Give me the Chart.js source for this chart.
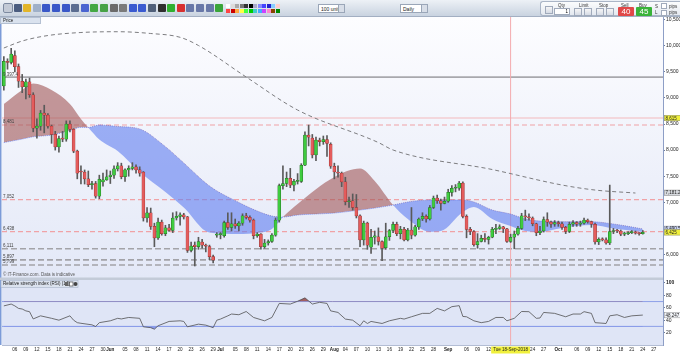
<!DOCTYPE html>
<html>
<head>
<meta charset="utf-8">
<script src="https://cdn.jsdelivr.net/npm/chart.js@4.4.1/dist/chart.umd.min.js"></script>
<style>
body{margin:0;width:680px;height:355px;overflow:hidden;background:#fff;font-family:"Liberation Sans",Arial,sans-serif;}
#wrap{position:relative;width:680px;height:355px;}
#c{position:absolute;left:0;top:0;}
#bar{position:absolute;left:0;top:0;width:680px;height:17px;background:linear-gradient(#edf1f6,#c9d3e0);border-bottom:1px solid #a3afc2;box-sizing:border-box;}
#bar .ic{position:absolute;top:4px;width:8px;height:8px;border-radius:1px;}
#bar .sel{position:absolute;top:4px;height:9px;background:#fff;border:1px solid #9aa6b8;font-size:5px;line-height:9px;padding-left:2px;box-sizing:border-box;color:#222;}
#bar .sel:after{content:"";position:absolute;right:0;top:0;width:5px;height:7px;background:#d8dee8;border-left:1px solid #9aa6b8;}
#trade{position:absolute;left:540px;top:1px;width:140px;height:15px;background:linear-gradient(#fbfcfd,#e4e9f0);border:1px solid #aab5c6;border-right:none;border-radius:3px 0 0 3px;box-sizing:border-box;}
#trade .t{position:absolute;font-size:4.5px;color:#333;top:1px;}
#trade .b{position:absolute;top:6px;height:7px;border:1px solid #a0aabb;background:#fff;box-sizing:border-box;}
#trade .q{position:absolute;top:6px;width:8px;height:8px;background:linear-gradient(#f6f6f6,#d5dbe5);border:1px solid #a0aabb;box-sizing:border-box;}
#trade .sell,#trade .buy{position:absolute;top:5px;width:16px;height:9px;color:#fff;font-size:8px;line-height:9px;text-align:center;border-radius:1px;}
#trade .sell{left:77px;background:#e04848;}
#trade .buy{left:95px;background:#39b339;}
#price{position:absolute;left:0;top:17px;height:7px;width:41px;background:#dae2ee;border:1px solid #b4c0d2;box-sizing:border-box;font-size:4.5px;line-height:6px;color:#222;padding-left:2px;}
</style>
</head>
<body>
<div id="wrap">
<canvas id="c" width="680" height="355"></canvas>
<div id="bar">
  <div class="sel" style="left:318px;width:27px">100 units</div>
  <div class="sel" style="left:400px;width:28px">Daily</div>
  <div id="trade">
    <div class="q" style="left:4px;top:4px"></div>
    <div class="t" style="left:17px">Qty</div>
    <div class="b" style="left:13px;width:16px;font-size:4.5px;text-align:right;padding-right:1px;line-height:5px">1</div>
    <div class="t" style="left:38px">Limit</div>
    <div class="q" style="left:33px"></div><div class="q" style="left:43px"></div>
    <div class="t" style="left:58px">Stop</div>
    <div class="q" style="left:55px"></div><div class="q" style="left:65px"></div>
    <div class="t" style="left:80px">Sell</div>
    <div class="t" style="left:98px">Buy</div>
    <div class="sell">40</div>
    <div class="buy">45</div>
    <div class="t" style="left:114px;top:2px">S</div>
    <div class="t" style="left:114px;top:8px">L</div>
    <div class="b" style="left:120px;top:1px;width:6px;height:6px"></div>
    <div class="b" style="left:120px;top:8px;width:6px;height:6px"></div>
    <div class="t" style="left:128px;top:2px">pips</div>
    <div class="t" style="left:128px;top:8px">pips</div>
  </div>
</div>
<div id="price">Price</div>
</div>
<script>
// toolbar icons (decoration only)
const iconColors = ['#9aa8c0','#4b5d80','#e2b52a','#9fb0c8','#3a58c8','#3a58c8','#3a58c8','#5a6c90',
  '#4a64d0','#44a844','#47a247','#6b6b6b','#7b7b7b','#3b5bd0','#3b5bd0','#50607a','#2f2f2f',
  '#30b030','#d83030','#6878a8','#6878a8','#6878a8','#3aa53a'];
const bar = document.getElementById('bar');
iconColors.forEach((col, k) => {
  const d = document.createElement('div');
  d.className = 'ic';
  d.style.left = (4 + k * 9.6) + 'px';
  d.style.background = col;
  if (k === 0) { d.style.outline = '1px solid #7d8aa0'; d.style.background = '#c3cad6'; }
  bar.appendChild(d);
});
const palette = ['#fff','#ddd','#aaa','#777','#333','#000','#aac','#88f','#44f','#22c','#8cf','#fcc',
  '#f44','#c00','#fa4','#ff4','#4f4','#0c0','#4cc','#4af','#c4f','#f8c','#840','#080'];
palette.forEach((col, k) => {
  const d = document.createElement('div');
  d.className = 'ic';
  d.style.width = '4px'; d.style.height = '4px'; d.style.borderRadius = '0';
  d.style.left = (226 + (k % 12) * 4.5) + 'px';
  d.style.top = (4 + Math.floor(k / 12) * 5) + 'px';
  d.style.background = col;
  bar.appendChild(d);
});

// days on the x axis
const firstDay = Date.UTC(2018, 4, 3);
const dayCount = 180;
const labels = Array.from({length: dayCount}, (_, k) => {
  const d = new Date(firstDay + k * 86400000);
  return String(d.getUTCMonth() + 1).padStart(2, '0') + '-' + String(d.getUTCDate()).padStart(2, '0');
});

// candles, 3 May - 24 Oct 2018
const opens = [
  9230,9700,9680,9810,9600,9320,9210,9310,9060,8420,
  8460,8710,8670,8460,8300,8060,8220,8210,8500,8400,
  7980,7600,7580,7450,7340,7360,7120,7390,7430,7490,
  7520,7640,7700,7490,7620,7650,7680,7620,7580,6700,
  6800,6540,6320,6620,6400,6510,6460,6700,6730,6760,
  6720,6080,6180,6150,6240,6180,6150,5960,6370,6380,
  6360,6610,6520,6590,6550,6600,6740,6710,6660,6360,
  6390,6150,6220,6250,6370,6660,7320,7360,7460,7330,
  7400,7400,7710,8290,8230,7910,8190,8160,8200,8110,
  7690,7580,7560,7390,7010,7030,6900,6740,6280,6600,
  6140,6330,6340,6250,6130,6340,6460,6580,6400,6480,
  6280,6470,6370,6530,6680,6730,6680,6900,7080,7030,
  6980,7020,7190,7270,7270,7370,6730,6480,6440,6190,
  6250,6310,6290,6330,6480,6500,6530,6490,6250,6330,
  6390,6500,6740,6720,6700,6590,6420,6450,6670,6620,
  6580,6610,6590,6520,6440,6580,6610,6580,6600,6660,
  6630,6580,6240,6290,6280,6220,6440,6460,6450,6390,
  6400,6420,6430,6410,6400];
const highs = [
  9790,9750,9950,9900,9650,9450,9360,9380,9100,8600,
  8760,8860,8700,8480,8360,8270,8360,8560,8560,8410,
  8000,7700,7620,7600,7400,7400,7520,7560,7620,7600,
  7700,7760,7750,7640,7700,7760,7720,7680,7590,6900,
  6890,6600,6700,6660,6560,6580,6800,6820,6800,6790,
  6730,6240,6240,6330,6290,6200,6180,5990,6420,6420,
  6640,6800,6800,6680,6630,6780,6790,6740,6680,6420,
  6400,6290,6280,6400,6700,7350,7700,7580,7650,7440,
  7550,7740,8350,8480,8300,8250,8230,8270,8280,8140,
  7750,7700,7580,7480,7100,7160,7150,6760,6640,6620,
  6480,6450,6510,6260,6600,6480,6620,6620,6540,6520,
  6500,6900,6560,6700,6800,6760,6940,7120,7140,7060,
  7100,7250,7320,7340,7400,7390,6760,6520,6460,6400,
  6370,6400,6350,6520,6580,6570,6540,6500,6390,6450,
  6540,6790,6850,6780,6720,6600,6540,6720,6800,6640,
  6650,6640,6620,6540,6620,6650,6630,6640,6700,6680,
  6640,6600,6320,6320,6320,7330,6500,6480,6470,6430,
  6440,6460,6450,6420,6460];
const lows = [
  9150,9550,9650,9500,9200,9100,8980,9010,8350,8230,
  8380,8330,8420,8130,8000,7960,8160,8170,8350,7950,
  7450,7350,7350,7300,7250,7080,7070,7310,7420,7360,
  7460,7600,7450,7400,7500,7620,7560,7500,6640,6620,
  6480,6150,6290,6370,6360,6440,6420,6660,6560,6680,
  6040,6050,5780,6100,6120,6050,5900,5840,6330,6300,
  6330,6480,6450,6500,6450,6560,6680,6620,6300,6330,
  6100,6120,6180,6230,6350,6620,7250,7300,7280,7220,
  7350,7380,7700,8080,7850,7800,8080,8110,7880,7650,
  7450,7480,7300,6950,6900,6850,6700,6150,6180,6100,
  6020,6200,6180,5880,6100,6270,6420,6360,6300,6260,
  6260,6300,6350,6480,6650,6620,6660,6880,6980,6850,
  6970,7000,7120,7200,7230,6700,6320,6380,6160,6120,
  6240,6240,6200,6320,6400,6480,6420,6230,6230,6110,
  6370,6480,6650,6660,6550,6360,6380,6430,6540,6520,
  6540,6540,6480,6400,6420,6540,6540,6540,6580,6600,
  6520,6200,6190,6260,6200,6190,6400,6420,6360,6360,
  6380,6400,6390,6370,6390];
const closes = [
  9700,9680,9840,9600,9320,9210,9310,9060,8420,8460,
  8710,8670,8460,8300,8060,8220,8210,8500,8400,7980,
  7560,7580,7450,7340,7360,7120,7440,7430,7490,7520,
  7640,7700,7490,7620,7650,7680,7620,7560,6700,6800,
  6540,6320,6620,6400,6510,6460,6700,6730,6760,6720,
  6080,6160,6150,6250,6180,6160,5960,5890,6390,6390,
  6610,6520,6590,6550,6600,6740,6710,6660,6360,6390,
  6150,6220,6250,6370,6660,7320,7360,7460,7330,7400,
  7400,7710,8290,8250,7910,8190,8160,8200,8130,7690,
  7580,7560,7390,7010,7030,6900,6740,6280,6600,6180,
  6330,6360,6250,6120,6340,6460,6580,6400,6480,6280,
  6470,6370,6530,6680,6730,6680,6900,7080,7030,6980,
  7020,7190,7270,7270,7370,6730,6480,6440,6190,6250,
  6310,6290,6330,6480,6500,6530,6490,6250,6330,6390,
  6500,6740,6720,6700,6590,6420,6450,6670,6620,6580,
  6610,6590,6520,6440,6580,6610,6580,6600,6660,6630,
  6580,6240,6290,6280,6220,6440,6460,6450,6390,6400,
  6420,6430,6410,6400,6425];

// 200 day moving average (dashed), read at a few days
const maDays = ['05-03','05-08','05-15','05-24','06-03','06-12','06-20','06-25','07-08','07-22',
  '08-13','08-17','09-13','10-02','10-11','10-22'];
const maValues = [9956,10090,10195,10253,10268,10234,10161,10004,9400,8768,
  8145,8002,7628,7331,7235,7178];

// ichimoku cloud edges
const cloudDays = ['05-03','05-08','05-11','05-16','05-21','05-24','05-26','05-29','06-03','06-09',
  '06-16','06-21','06-28','07-06','07-11','07-15','07-18','07-22','08-01','08-08',
  '08-12','08-17','08-21','08-27','08-30','09-05','09-08','09-13','09-18','09-22',
  '09-26','10-02','10-10','10-16','10-24'];
const spanA = [8883,9151,9276,9151,8883,8596,8433,8203,7982,7580,
  7197,6900,6421,6392,6411,6488,6718,6967,7484,7647,
  7408,6948,6680,6436,6449,6814,6910,6680,6545,6449,
  6431,6507,6565,6498,6430];
const spanB = [8145,8212,8256,8289,8375,8437,8433,8481,8452,8404,
  8065,7753,7312,6996,6833,6737,6718,6756,6795,6852,
  6890,6948,7005,7044,7044,7044,7005,6852,6775,6680,
  6641,6628,6628,6584,6490];

// RSI (14)
const rsiDays = ['05-03','05-05','05-06','05-07','05-08','05-09','05-10','05-11','05-13','05-16',
  '05-18','05-21','05-22','05-23','05-24','05-27','05-28','05-29','06-01','06-03',
  '06-04','06-06','06-09','06-10','06-12','06-13','06-14','06-17','06-20','06-21',
  '06-22','06-25','06-27','06-29','06-30','07-01','07-03','07-04','07-06','07-08',
  '07-10','07-13','07-15','07-17','07-20','07-22','07-24','07-26','07-28','07-30',
  '07-31','08-02','08-04','08-06','08-08','08-09','08-10','08-11','08-14','08-16',
  '08-19','08-20','08-22','08-25','08-27','08-29','08-31','09-02','09-04','09-05',
  '09-06','09-08','09-10','09-12','09-14','09-16','09-17','09-19','09-21','09-23',
  '09-25','09-26','09-27','09-30','10-03','10-05','10-07','10-08','10-10','10-11',
  '10-14','10-15','10-17','10-19','10-21','10-24'];
const rsiValues = [63,66,63,59,58,55,53.7,42,47,43,
  40,47,40,36,35,32.5,29.8,36,39,43,
  42,44.4,43,29.3,28,25.5,31,38,39,38,
  29.3,33.6,32,28,40,41.8,47,49.9,48.8,54,
  44.4,39,44.4,67,66,70.5,76,66,68.8,67,
  55,52.5,41.8,40,31,39,34.7,38,34.7,39,
  43,41.8,45.5,51,51,59,55,61.8,63.4,46,
  45.5,39,36,38,44.4,44.4,39,43,54,53.7,
  43,43.5,52.5,51,45.5,49.9,49.9,53.7,51,36,
  34.7,47,48.8,44.4,47,48.247];
const rsiLevels = [70, 30];

// axes
const priceTicks = [6000,6500,7000,7500,8000,8500,9000,9500,10000,10500];
const rsiTicks = [20,40,60,80,100];
const tickDays = ['05-06','05-09','05-12','05-15','05-18','05-21','05-24','05-27','05-30','06-01',
  '06-05','06-08','06-11','06-14','06-17','06-20','06-23','06-26','06-29','07-01',
  '07-05','07-08','07-11','07-14','07-17','07-20','07-23','07-26','07-29','08-01',
  '08-04','08-07','08-10','08-13','08-16','08-19','08-22','08-25','08-28','09-01',
  '09-06','09-09','09-12','09-24','09-27','10-01','10-06','10-09','10-12','10-15',
  '10-18','10-21','10-24','10-27'];
const tickTexts = ['06','09','12','15','18','21','24','27','30','Jun',
  '05','08','11','14','17','20','23','26','29','Jul',
  '05','08','11','14','17','20','23','26','29','Aug',
  '04','07','10','13','16','19','22','25','28','Sep',
  '06','09','12','24','27','Oct','06','09','12','15',
  '18','21','24','27'];
const months = ['Jun','Jul','Aug','Sep','Oct'];

// horizontal levels drawn across the price panel
const levelValues = [9397.4, 8615, 8481, 7052, 6438, 6111, 5897, 5799];
const levelTexts = ['9,397.4', '', '8,481', '7,052', '6,438', '6,111', '5,897', '5,799'];
const levelKinds = ['grey', 'pink', 'red', 'red', 'red', 'greyDash', 'greyDash', 'greyDash'];
const tagValues = [8615, 7181.2, 6490.5, 6425];
const tagTexts = ['8,615', '7,181.2', '6,490.5', '6,425'];
const tagColors = ['#f0f03c', '#d6d9de', '#c9d3f3', '#f0f03c'];
const rsiTag = 48.247;
const markerDay = '09-18';
const markerText = 'Tue 18-Sep-2018';

const levelStyle = {
  grey: ['#a8a8ad', 1.6, []],
  pink: ['#f3b9bd', 1, []],
  red: ['#f0a2a6', 1.2, [5, 3]],
  greyDash: ['#a3a3a8', 1.6, [6, 3]]
};

function hline(ctx, a, yy, col, w, dash) {
  ctx.save();
  ctx.strokeStyle = col; ctx.lineWidth = w; ctx.setLineDash(dash);
  ctx.beginPath(); ctx.moveTo(a.left, yy); ctx.lineTo(a.right, yy); ctx.stroke();
  ctx.restore();
}
function tag(ctx, x, yy, w, text, fill) {
  ctx.fillStyle = fill; ctx.fillRect(x, yy - 3, w, 6);
  ctx.strokeStyle = '#8c8c8c'; ctx.lineWidth = 0.5; ctx.strokeRect(x + 0.25, yy - 2.75, w - 0.5, 5.5);
  ctx.fillStyle = '#222'; ctx.font = '4.5px "Liberation Sans"'; ctx.textBaseline = 'middle'; ctx.textAlign = 'left';
  ctx.fillText(text, x + 1.5, yy + 0.3);
}

const panels = {
  id: 'panels',
  beforeDraw(chart) {
    const {ctx, chartArea: a} = chart;
    const y = chart.scales.y, r = chart.scales.rsi;
    ctx.save();
    ctx.fillStyle = '#ffffff'; ctx.fillRect(0, 0, chart.width, chart.height);
    const g = ctx.createLinearGradient(0, y.top, 0, y.bottom);
    g.addColorStop(0, '#fdfdff'); g.addColorStop(1, '#e3e8f7');
    ctx.fillStyle = g; ctx.fillRect(a.left, y.top, a.right - a.left, y.bottom - y.top);
    ctx.fillStyle = '#dfe5f6'; ctx.fillRect(a.left, r.top, a.right - a.left, r.bottom - r.top);
    ctx.fillStyle = '#7c9bd8'; ctx.fillRect(0, a.top, 1.5, a.bottom - a.top);
    ctx.restore();
  },
  beforeDatasetsDraw(chart) {
    const {ctx, chartArea: a} = chart;
    const y = chart.scales.y, r = chart.scales.rsi, xs = chart.scales.x;
    levelValues.forEach((v, k) => {
      const s = levelStyle[levelKinds[k]];
      hline(ctx, a, y.getPixelForValue(v), s[0], s[1], s[2]);
    });
    rsiLevels.forEach(v => hline(ctx, a, r.getPixelForValue(v), '#8d9fe8', 1, []));
    const mx = xs.getPixelForValue(labels.indexOf(markerDay));
    ctx.save();
    ctx.strokeStyle = '#f3aaae'; ctx.lineWidth = 1;
    ctx.beginPath(); ctx.moveTo(mx, a.top); ctx.lineTo(mx, a.bottom); ctx.stroke();
    ctx.restore();
  },
  afterDraw(chart) {
    const {ctx, chartArea: a} = chart;
    const y = chart.scales.y, r = chart.scales.rsi, xs = chart.scales.x;
    ctx.save();
    // level captions
    ctx.font = '4.5px "Liberation Sans"'; ctx.fillStyle = '#444'; ctx.textBaseline = 'bottom'; ctx.textAlign = 'left';
    levelValues.forEach((v, k) => { if (levelTexts[k]) ctx.fillText(levelTexts[k], 3, y.getPixelForValue(v) - 0.5); });
    // separator between panels
    ctx.fillStyle = '#c3cbd8'; ctx.fillRect(0, y.bottom - 0.5, a.right, 2.5);
    ctx.fillStyle = '#555'; ctx.textBaseline = 'bottom';
    ctx.fillText('\u00a9 IT-Finance.com. Data is indicative', 3, y.bottom - 1);
    // RSI caption
    ctx.fillStyle = '#dbe2ee'; ctx.fillRect(1, r.top + 2.5, 77, 7);
    ctx.strokeStyle = '#a9b5c8'; ctx.lineWidth = 0.6; ctx.strokeRect(1, r.top + 2.5, 77, 7);
    ctx.fillStyle = '#222'; ctx.textBaseline = 'middle';
    ctx.fillText('Relative strength index (RSI) (14)', 3, r.top + 6.2);
    ctx.fillStyle = '#666'; ctx.fillRect(65, r.top + 4, 3.5, 4);
    ctx.fillStyle = '#fff'; ctx.fillRect(69.5, r.top + 4, 3.5, 4);
    ctx.strokeStyle = '#333'; ctx.strokeRect(69.5, r.top + 4, 3.5, 4);
    ctx.fillStyle = '#444'; ctx.beginPath(); ctx.arc(75.5, r.top + 6, 2, 0, Math.PI * 2); ctx.fill();
    // right value tags
    tagValues.forEach((v, k) => tag(ctx, a.right + 1, y.getPixelForValue(v), 17, tagTexts[k], tagColors[k]));
    tag(ctx, a.right + 1, r.getPixelForValue(rsiTag), 17, rsiTag.toFixed(3), '#f4f6fa');
    // cursor date on the x axis
    const mx = xs.getPixelForValue(labels.indexOf(markerDay));
    ctx.font = '4.5px "Liberation Sans"';
    const w = ctx.measureText(markerText).width + 4;
    ctx.fillStyle = '#f0f03c'; ctx.fillRect(mx - w / 2, a.bottom + 1.5, w, 7);
    ctx.fillStyle = '#222'; ctx.textAlign = 'center'; ctx.textBaseline = 'middle';
    ctx.fillText(markerText, mx, a.bottom + 5.2);
    ctx.restore();
  }
};

Chart.defaults.font.family = '"Liberation Sans", Arial, sans-serif';

const bodyColors = opens.map((o, k) => closes[k] >= o ? '#3fcb3f' : '#e45c5c');
const bodyBorders = opens.map((o, k) => closes[k] >= o ? '#1f6a1f' : '#8e2b2b');

new Chart(document.getElementById('c'), {
  type: 'bar',
  data: {
    labels: labels,
    datasets: [
      {
        label: 'body', data: opens.map((o, k) => [o, closes[k]]),
        backgroundColor: bodyColors, borderColor: bodyBorders, borderWidth: 0.5, borderSkipped: false,
        barThickness: 3, minBarLength: 1, grouped: false, order: 0, yAxisID: 'y'
      },
      {
        label: 'wick', data: lows.map((l, k) => [l, highs[k]]),
        backgroundColor: '#5a5a5a', barThickness: 1, grouped: false, order: 1, yAxisID: 'y'
      },
      {
        type: 'line', label: 'MA', data: maDays.map((d, k) => ({x: d, y: maValues[k]})),
        borderColor: '#7d7d80', borderWidth: 1, borderDash: [4, 3], pointRadius: 0,
        cubicInterpolationMode: 'monotone', order: 2, yAxisID: 'y'
      },
      {
        type: 'line', label: 'span A', data: cloudDays.map((d, k) => ({x: d, y: spanA[k]})),
        borderWidth: 0, pointRadius: 0, cubicInterpolationMode: 'monotone',
        fill: {target: '+1', above: 'rgba(160,85,85,0.6)', below: 'rgba(95,125,240,0.6)'},
        order: 3, yAxisID: 'y'
      },
      {
        type: 'line', label: 'span B', data: cloudDays.map((d, k) => ({x: d, y: spanB[k]})),
        borderColor: 'rgba(80,95,225,0.8)', borderWidth: 0.8, borderDash: [1, 1], pointRadius: 0,
        cubicInterpolationMode: 'monotone', order: 4, yAxisID: 'y'
      },
      {
        type: 'line', label: 'RSI', data: rsiDays.map((d, k) => ({x: d, y: rsiValues[k]})),
        borderColor: '#505052', borderWidth: 0.8, pointRadius: 0, tension: 0,
        fill: {target: {value: 70}, above: 'rgba(150,70,70,0.85)', below: 'rgba(0,0,0,0)'},
        order: 2, yAxisID: 'rsi'
      },
      {
        type: 'line', label: 'RSI low', data: rsiDays.map((d, k) => ({x: d, y: rsiValues[k]})),
        borderWidth: 0, pointRadius: 0, tension: 0,
        fill: {target: {value: 30}, above: 'rgba(0,0,0,0)', below: 'rgba(80,100,230,0.6)'},
        order: 3, yAxisID: 'rsi'
      }
    ]
  },
  options: {
    responsive: false,
    devicePixelRatio: 1,
    animation: false,
    layout: {padding: {top: 17, left: 2, right: 0, bottom: 0}},
    plugins: {legend: {display: false}, tooltip: {enabled: false}},
    scales: {
      x: {
        offset: true,
        grid: {display: false, drawTicks: false},
        border: {display: true, color: '#b3bdd4'},
        ticks: {
          autoSkip: false, maxRotation: 0, minRotation: 0, padding: 2, color: '#222',
          font: c => ({size: 4.6, weight: months.includes(tickTexts[tickDays.indexOf(labels[c.index])]) ? 'bold' : 'normal'}),
          callback: (v, i) => { const k = tickDays.indexOf(labels[i]); return k < 0 ? '' : tickTexts[k]; }
        },
        afterFit: s => { s.height = 10; }
      },
      y: {
        position: 'right', stack: 'panel', stackWeight: 261, min: 5550, max: 10550,
        grid: {drawOnChartArea: false, tickLength: 2, color: '#6f7d98'},
        border: {color: '#8d9ec6'},
        ticks: {autoSkip: false, padding: 1, color: '#222', font: {size: 5},
          callback: v => v.toLocaleString('en-US')},
        afterBuildTicks: s => { s.ticks = priceTicks.map(v => ({value: v})); },
        afterFit: s => { s.width = 17; }
      },
      rsi: {
        position: 'right', stack: 'panel', stackWeight: 67, min: 0, max: 108,
        grid: {drawOnChartArea: false, tickLength: 2, color: '#6f7d98'},
        border: {color: '#8d9ec6'},
        ticks: {autoSkip: false, padding: 1, color: '#222',
          font: c => ({size: 5, weight: c.tick && c.tick.value === 100 ? 'bold' : 'normal'})},
        afterBuildTicks: s => { s.ticks = rsiTicks.map(v => ({value: v})); },
        afterFit: s => { s.width = 17; }
      }
    }
  },
  plugins: [panels]
});
</script>
</body>
</html>
